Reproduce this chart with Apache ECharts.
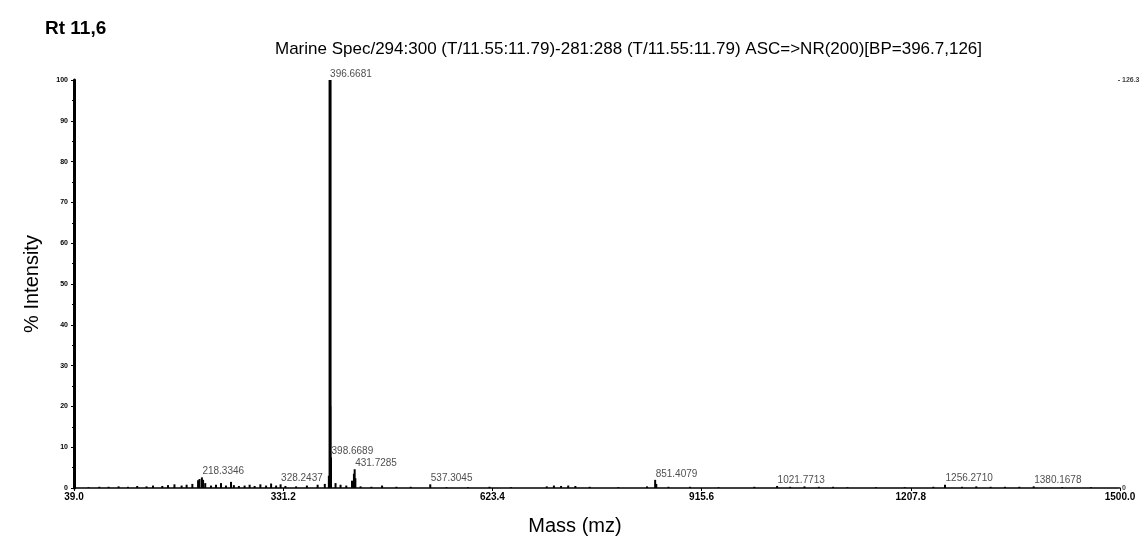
<!DOCTYPE html>
<html>
<head>
<meta charset="utf-8">
<script src="https://cdn.jsdelivr.net/npm/echarts@6/dist/echarts.min.js"></script>
<style>
  html, body { margin: 0; padding: 0; background: #fff; }
  #chart { width: 1147px; height: 541px; }
</style>
</head>
<body>
<div id="chart"></div>
<script>
// spectrum sticks: m/z and % intensity
var mzValues = [60, 75, 88, 102, 115, 128, 141, 150, 163, 171, 180, 190, 197, 205, 213, 215, 218.3346, 220, 223,
  231, 238, 245, 252, 259, 263, 270, 278, 285, 292, 300, 308, 315, 322, 328.2437, 335, 350, 365, 380, 390,
  395.67, 397.67, 398.6689, 405, 412, 420, 428, 430.7, 431.7285, 432.7, 440, 455, 470, 490, 510,
  537.3045, 560, 590, 620, 650, 700, 710, 720, 730, 740, 760, 800, 840, 851.4079, 853, 870, 900, 940, 990,
  1021.7713, 1040, 1060, 1080, 1100, 1120, 1160, 1200, 1240, 1256.2710, 1280, 1300, 1320, 1340, 1360,
  1380.1678, 1420, 1460];
var intensityValues = [0.2, 0.3, 0.3, 0.4, 0.3, 0.5, 0.4, 0.6, 0.5, 0.7, 0.9, 0.6, 0.8, 1.0, 1.9, 2.2, 2.6, 2.0, 1.2,
  0.6, 0.8, 1.2, 0.6, 1.5, 0.7, 0.5, 0.6, 0.8, 0.5, 0.9, 0.6, 1.1, 0.6, 0.9, 0.5, 0.4, 0.6, 0.8, 1.0,
  3.0, 20, 7.5, 1.2, 0.8, 0.6, 1.8, 3.5, 4.6, 2.4, 0.4, 0.3, 0.6, 0.3, 0.3,
  0.9, 0.2, 0.2, 0.3, 0.2, 0.4, 0.6, 0.5, 0.6, 0.5, 0.3, 0.2, 0.4, 2.0, 1.0, 0.3, 0.3, 0.2, 0.3,
  0.5, 0.3, 0.4, 0.3, 0.3, 0.2, 0.2, 0.2, 0.3, 0.8, 0.3, 0.4, 0.3, 0.3, 0.3,
  0.4, 0.2, 0.2];

// base peak
var basePeakMz = [396.6681];
var basePeakIntensity = [100];

// annotated peaks
var peakLabels = ['396.6681', '398.6689', '431.7285', '218.3346', '328.2437', '537.3045', '851.4079', '1021.7713', '1256.2710', '1380.1678'];
var peakMz = [396.6681, 398.6689, 431.7285, 218.3346, 328.2437, 537.3045, 851.4079, 1021.7713, 1256.2710, 1380.1678];
var peakHeights = [100, 7.5, 4.6, 2.6, 0.9, 0.9, 2.0, 0.5, 0.8, 0.4];

var xTicks = [39.0, 331.2, 623.4, 915.6, 1207.8, 1500.0];

var spectrum = mzValues.map(function (m, i) { return [m, intensityValues[i]]; });
var basePeak = basePeakMz.map(function (m, i) { return [m, basePeakIntensity[i]]; });
var labelData = peakMz.map(function (m, i) { return { name: peakLabels[i], value: [m, peakHeights[i]] }; });

var chart = echarts.init(document.getElementById('chart'));
chart.setOption({
  animation: false,
  title: [
    { text: 'Rt 11,6', left: 40, top: 14, textStyle: { fontFamily: 'Liberation Sans', fontSize: 19, fontWeight: 'bold', color: '#000' } },
    { text: 'Marine Spec/294:300 (T/11.55:11.79)-281:288 (T/11.55:11.79) ASC=>NR(200)[BP=396.7,126]', left: 270, top: 36,
      textStyle: { fontFamily: 'Liberation Sans', fontSize: 17, fontWeight: 'normal', color: '#000' } }
  ],
  grid: { left: 74, right: 27, top: 80, bottom: 53 },
  xAxis: {
    type: 'value', min: 39, max: 1500,
    name: 'Mass (mz)', nameLocation: 'middle', nameGap: 28,
    nameTextStyle: { fontFamily: 'Liberation Sans', fontSize: 20, color: '#000', padding: [0, 44, 0, 0] },
    axisLine: { lineStyle: { color: '#000', width: 1.5 } },
    axisTick: { customValues: xTicks, length: 3, lineStyle: { color: '#000' } },
    axisLabel: { customValues: xTicks, formatter: function (v) { return v.toFixed(1); },
      fontFamily: 'Liberation Sans', fontSize: 10, fontWeight: 'bold', color: '#000', margin: 4 },
    splitLine: { show: false }
  },
  yAxis: [{
    type: 'value', min: 0, max: 100, interval: 10,
    name: '% Intensity', nameLocation: 'middle', nameGap: 32,
    nameTextStyle: { fontFamily: 'Liberation Sans', fontSize: 20, color: '#000' },
    axisLine: { show: true, lineStyle: { color: '#000', width: 3 } },
    axisTick: { show: true, length: 3, lineStyle: { color: '#000' } },
    minorTick: { show: true, splitNumber: 2, length: 2, lineStyle: { color: '#000' } },
    axisLabel: { fontFamily: 'Liberation Sans', fontSize: 7, fontWeight: 'bold', color: '#000', margin: 6 },
    splitLine: { show: false }
  }, {
    type: 'value', min: 0, max: 126.3, interval: 126.3, position: 'right',
    axisLine: { show: false },
    axisTick: { show: true, length: 2, inside: true, lineStyle: { color: '#555' } },
    axisLabel: { fontFamily: 'Liberation Sans', fontSize: 7, fontWeight: 'bold', color: '#444', margin: 2,
      formatter: function (v) { return v === 0 ? '0' : v.toFixed(1); } },
    splitLine: { show: false }
  }],
  series: [{
    type: 'bar',
    data: spectrum,
    barWidth: 2,
    barGap: '-100%',
    itemStyle: { color: '#000' },
    silent: true
  }, {
    type: 'bar',
    data: basePeak,
    barWidth: 3,
    barGap: '-100%',
    itemStyle: { color: '#000' },
    silent: true
  }, {
    type: 'scatter',
    data: labelData,
    symbolSize: 0,
    label: {
      show: true, position: 'top', align: 'left', distance: 1, formatter: '{b}',
      fontFamily: 'Liberation Sans', fontSize: 10, color: '#222'
    },
    silent: true
  }]
});
</script>
</body>
</html>
